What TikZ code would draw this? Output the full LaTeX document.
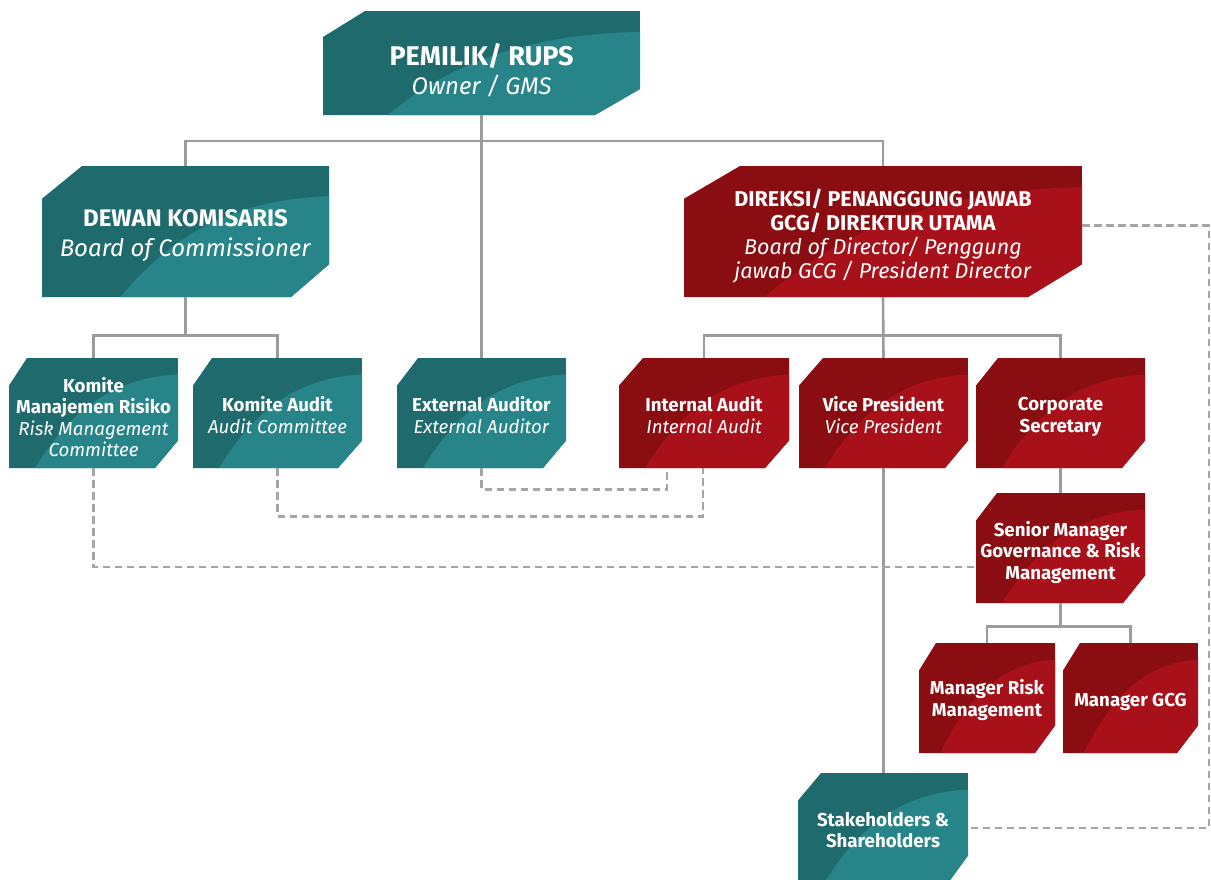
\documentclass[tikz,border=0pt]{standalone}
\usepackage{fontspec}
\setmainfont{Fira Sans}
\usetikzlibrary{calc}

\definecolor{tealdark}{HTML}{1F6A6D}
\definecolor{teallight}{HTML}{278489}
\definecolor{reddark}{HTML}{8A0D12}
\definecolor{redlight}{HTML}{A8111A}
\definecolor{linkgray}{HTML}{9B9B9D}

% font sizes for the box labels
\newcommand{\szHuge}{\fontsize{24}{29}\selectfont}
\newcommand{\szHugeBold}{\fontsize{27}{29}\selectfont\bfseries}
\newcommand{\szBig}{\fontsize{24}{30}\selectfont}
\newcommand{\szMid}{\fontsize{21.5}{24}\selectfont}
\newcommand{\szSmall}{\fontsize{18.7}{21.5}\selectfont}

\tikzset{
  obdark/.store in=\obDark,
  oblight/.store in=\obLight,
  obdrop/.store in=\obDrop,
  sweepx/.store in=\obSwX,
  sweepy/.store in=\obSwY,
  obdrop=4, sweepx=0.18, sweepy=0.17,
  tealpal/.style={obdark=tealdark, oblight=teallight},
  redpal/.style={obdark=reddark, oblight=redlight},
  fhuge/.style={font=\szHuge},
  fbig/.style={font=\szBig},
  fmid/.style={font=\szMid},
  fsmall/.style={font=\szSmall, sweepx=0.15, sweepy=0.15},
  boxframe/.style={draw=none, inner sep=0pt},
  boxlabel/.style={text=white, align=center, inner sep=0pt, draw=none},
  link/.style={draw=linkgray, line width=2.6pt},
  dlink/.style={draw=linkgray!90, line width=2.6pt, dash pattern=on 7.5pt off 4.5pt},
}

% #1 name, #2 left, #3 top, #4 right, #5 bottom,
% #6 top-left cut width, #7 bottom-right cut width, #8 palette and font, #9 label
\newcommand{\orgbox}[9]{%
  \begin{scope}
  \tikzset{#8}%
  \pgfmathsetmacro\obW{#4-#2}%
  \pgfmathsetmacro\obH{#5-#3}%
  \pgfmathsetmacro\obC{0.25*\obH}%
  \pgfmathsetmacro\obSx{#2+\obSwX*\obW}%
  \pgfmathsetmacro\obSy{#3+\obSwY*\obH}%
  \pgfmathsetmacro\obAx{\obSx+0.25*(#4-\obSx)}%
  \pgfmathsetmacro\obAy{\obSy+0.38*(#5-\obSy)}%
  \pgfmathsetmacro\obBx{\obSx+0.55*(#4-\obSx)}%
  \pgfmathsetmacro\obBy{\obSy+0.03*(#5-\obSy)}%
  \begin{scope}
    \path[clip] (#2+#6,#3) -- (#4,#3) -- (#4,#5-\obC) -- (#4-#7,#5)
      -- (#2,#5) -- (#2,#3+\obC) -- cycle;
    \fill[\obDark] (#2-1,#3-1) rectangle (#4+1,#5+1);
    \fill[\obLight] (\obSx,#5+1) .. controls (\obAx,\obAy) and (\obBx,\obBy)
      .. (#4+1,\obSy) -- (#4+1,#5+1) -- cycle;
  \end{scope}
  \node[boxframe, minimum width=\obW pt, minimum height=\obH pt]
    (#1) at ({(#2+#4)/2},{(#3+#5)/2}) {};
  \node[boxlabel, #8, yshift=-\obDrop pt] (#1-text) at (#1.center) {#9};
  \end{scope}
}

\begin{document}
\begin{tikzpicture}[x=1pt, y=-1pt]
\useasboundingbox (0,0) rectangle (1211,879);

% top level
\orgbox{pemilik}{323}{11}{640}{115}{42}{45}{tealpal, fhuge, obdrop=7, sweepx=0.2, sweepy=0.2}
  {{\szHugeBold PEMILIK/ RUPS}\\\textit{Owner / GMS}}
\orgbox{dewan}{42}{166}{329}{297}{40}{38}{tealpal, fbig, sweepx=0.27, sweepy=0.23}
  {\textbf{DEWAN KOMISARIS}\\\textit{Board of Commissioner}}
\orgbox{direksi}{684}{166}{1082}{297}{56}{54}{redpal, fmid, obdrop=5, sweepx=0.2, sweepy=0.16}
  {\textbf{DIREKSI/ PENANGGUNG JAWAB}\\\textbf{GCG/ DIREKTUR UTAMA}\\
   \textit{Board of Director/ Penggung}\\\textit{jawab GCG / President Director}}

% committees and units
\orgbox{kmr}{9}{358}{178}{468}{18}{23}{tealpal, fsmall}
  {\textbf{Komite}\\\textbf{Manajemen Risiko}\\\textit{Risk Management}\\\textit{Committee}}
\orgbox{ka}{193}{358}{362}{468}{19}{24}{tealpal, fsmall, obdrop=2}
  {\textbf{Komite Audit}\\\textit{Audit Committee}}
\orgbox{ea}{397}{358}{566}{468}{21}{23}{tealpal, fsmall, obdrop=2}
  {\textbf{External Auditor}\\\textit{External Auditor}}
\orgbox{ia}{619}{358}{789}{468}{24}{24}{redpal, fsmall, obdrop=2}
  {\textbf{Internal Audit}\\\textit{Internal Audit}}
\orgbox{vp}{799}{358}{968}{468}{24}{23}{redpal, fsmall, obdrop=2}
  {\textbf{Vice President}\\\textit{Vice President}}
\orgbox{cs}{976}{358}{1145}{468}{22}{23}{redpal, fsmall}
  {\textbf{Corporate}\\\textbf{Secretary}}
\orgbox{sm}{976}{493}{1145}{603}{21}{22}{redpal, fsmall}
  {\textbf{Senior Manager}\\\textbf{Governance \& Risk}\\\textbf{Management}}
\orgbox{mrm}{919}{643}{1055}{753}{17}{20}{redpal, fsmall, obdrop=2}
  {\textbf{Manager Risk}\\\textbf{Management}}
\orgbox{mgcg}{1063}{643}{1198}{753}{17}{21}{redpal, fsmall}
  {\textbf{Manager GCG}}
\orgbox{stake}{798}{773}{968}{883}{23}{20}{tealpal, fsmall, obdrop=2}
  {\textbf{Stakeholders \&}\\\textbf{Shareholders}}

\coordinate (rightrail) at (1209,0);

% solid reporting lines
\draw[link] (pemilik.south) -- (ea.north);
\draw[link] (dewan.north) -- ++(0,-25) -| (direksi.north);
\draw[link] (dewan.south) -- ++(0,38) -| (kmr.north);
\draw[link] (dewan.south) -- ++(0,38) -| (ka.north);
\draw[link] (direksi.south) -- ++(0,38) -| (ia.north);
\draw[link] (direksi.south) -- ++(0,38) -| (cs.north);
\draw[link] (direksi.south) -- (vp.north);
\draw[link] (vp.south) -- (vp.south |- stake.north);
\draw[link] (cs.south) -- (sm.north);
\draw[link] (sm.south) -- ++(0,23) -| (mrm.north);
\draw[link] (sm.south) -- ++(0,23) -| (mgcg.north);

% dashed coordination lines
\draw[dlink] (ea.south) -- ++(0,21) -| ([xshift=-37pt]ia.south);
\draw[dlink] (ka.south) -- ++(0,48) -| ([xshift=-1pt]ia.south);
\draw[dlink] (kmr.south) |- ([yshift=-19pt]sm.west);
\draw[dlink] ([yshift=6pt]direksi.east) -| (rightrail |- stake.east) -- (stake.east);
\end{tikzpicture}
\end{document}
